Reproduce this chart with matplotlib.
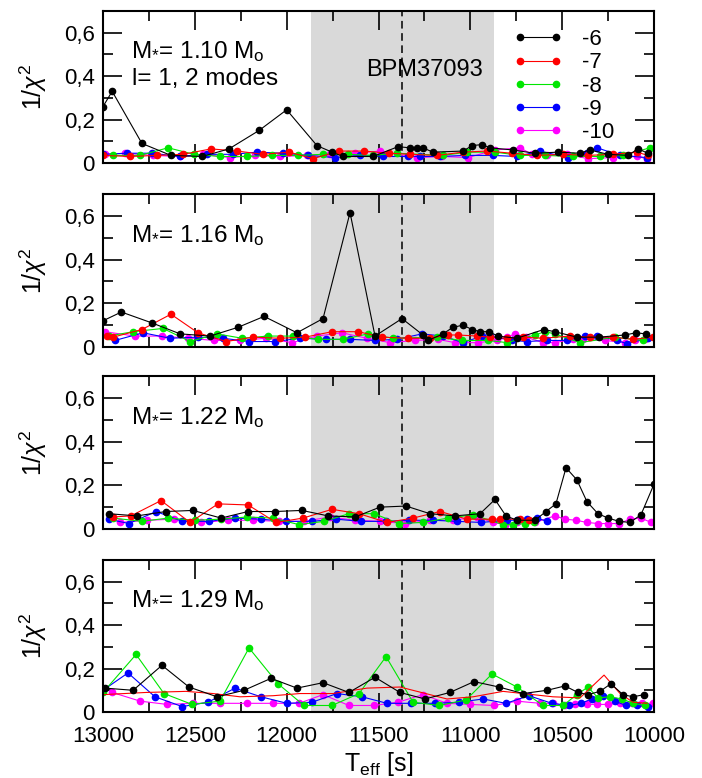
import matplotlib
matplotlib.use("Agg")
import matplotlib.pyplot as plt
from matplotlib.ticker import MultipleLocator, FuncFormatter

# ---- data (Teff [K], 1/chi^2) ----
labels = ['-6', '-7', '-8', '-9', '-10']
colors = ['black', '#ff0000', '#00e600', '#0000ff', '#ff00ff']
masses = ['1.10', '1.16', '1.22', '1.29']

# M = 1.10
m110_T6 = [13000, 12950, 12788, 12630, 12460, 12314, 12150, 12000, 11835, 11753, 11693, 11530, 11394, 11328, 11290,
           11258, 11204, 11040, 10990, 10937, 10893, 10768, 10650, 10520, 10403, 10350, 10250, 10142, 10087, 10033]
m110_y6 = [0.26, 0.33, 0.09, 0.035, 0.03, 0.065, 0.15, 0.245, 0.08, 0.05, 0.03, 0.03, 0.075, 0.07, 0.07,
           0.07, 0.05, 0.055, 0.08, 0.085, 0.07, 0.06, 0.045, 0.05, 0.045, 0.06, 0.04, 0.035, 0.065, 0.045]
m110_T7 = [13000, 12853, 12706, 12564, 12412, 12270, 12129, 11987, 11856, 11715, 11579, 11443, 11328, 11182, 11040,
           10910, 10773, 10637, 10496, 10360, 10224, 10093, 10033]
m110_y7 = [0.035, 0.03, 0.035, 0.04, 0.065, 0.055, 0.04, 0.05, 0.02, 0.055, 0.055, 0.045, 0.04, 0.035, 0.05,
           0.055, 0.045, 0.035, 0.04, 0.035, 0.04, 0.05, 0.035]
m110_T8 = [12945, 12798, 12646, 12504, 12363, 12216, 12080, 11938, 11802, 11666, 11530, 11400, 11149, 11018, 10866,
           10730, 10594, 10441, 10294, 10169, 10022]
m110_y8 = [0.035, 0.035, 0.07, 0.04, 0.03, 0.03, 0.035, 0.035, 0.04, 0.04, 0.035, 0.045, 0.035, 0.05, 0.05,
           0.035, 0.035, 0.03, 0.03, 0.035, 0.07]
m110_T9 = [13000, 12870, 12733, 12580, 12434, 12292, 12162, 12020, 11884, 11737, 11601, 11475, 11339, 11274, 11165,
           11029, 10877, 10746, 10621, 10469, 10365, 10310, 10185, 10038]
m110_y9 = [0.04, 0.045, 0.045, 0.03, 0.04, 0.04, 0.05, 0.045, 0.035, 0.025, 0.035, 0.03, 0.03, 0.03, 0.03,
           0.035, 0.035, 0.03, 0.055, 0.025, 0.045, 0.07, 0.035, 0.025]
m110_T10 = [12990, 12880, 12728, 12580, 12455, 12308, 12172, 12036, 11889, 11764, 11628, 11492, 11290, 11154, 11013,
            10866, 10730, 10664, 10583, 10474, 10360, 10224, 10093, 10038]
m110_y10 = [0.04, 0.045, 0.035, 0.03, 0.04, 0.025, 0.035, 0.03, 0.035, 0.04, 0.045, 0.055, 0.025, 0.03, 0.025,
            0.06, 0.07, 0.04, 0.035, 0.04, 0.02, 0.025, 0.03, 0.02]

# M = 1.16
m116_T6 = [13000, 12900, 12733, 12580, 12417, 12265, 12123, 11944, 11802, 11655, 11519, 11372, 11258, 11230, 11149,
           11095, 11040, 10991, 10947, 10898, 10850, 10747, 10600, 10540, 10420, 10300, 10158, 10098, 10044]
m116_y6 = [0.12, 0.16, 0.11, 0.06, 0.05, 0.09, 0.14, 0.065, 0.13, 0.615, 0.05, 0.13, 0.055, 0.03, 0.06,
           0.09, 0.1, 0.08, 0.07, 0.07, 0.05, 0.04, 0.08, 0.07, 0.045, 0.045, 0.055, 0.065, 0.06]
m116_T7 = [12978, 12945, 12788, 12630, 12483, 12330, 12183, 12036, 11900, 11753, 11610, 11481, 11339, 11220, 11122,
           11067, 10964, 10893, 10800, 10713, 10604, 10458, 10350, 10224, 10114, 10005]
m116_y7 = [0.05, 0.045, 0.08, 0.15, 0.065, 0.025, 0.045, 0.04, 0.045, 0.07, 0.07, 0.045, 0.04, 0.04, 0.055,
           0.055, 0.05, 0.045, 0.04, 0.045, 0.04, 0.05, 0.045, 0.045, 0.035, 0.045]
m116_T8 = [12970, 12836, 12673, 12526, 12379, 12243, 12102, 11965, 11830, 11693, 11557, 11420, 11182, 11046, 10904,
           10800, 10648, 10594, 10540, 10403, 10212, 10060]
m116_y8 = [0.05, 0.07, 0.085, 0.025, 0.06, 0.04, 0.05, 0.05, 0.035, 0.035, 0.06, 0.04, 0.045, 0.03, 0.03,
           0.02, 0.055, 0.07, 0.06, 0.02, 0.045, 0.03]
m116_T9 = [12935, 12782, 12635, 12483, 12347, 12205, 12063, 11927, 11786, 11655, 11519, 11400, 11263, 11149, 11040,
           10937, 10893, 10773, 10692, 10583, 10474, 10376, 10310, 10201, 10147, 10033]
m116_y9 = [0.03, 0.065, 0.04, 0.045, 0.04, 0.025, 0.025, 0.04, 0.035, 0.035, 0.03, 0.035, 0.06, 0.05, 0.02,
           0.05, 0.05, 0.03, 0.025, 0.03, 0.03, 0.05, 0.05, 0.03, 0.015, 0.04]
m116_T10 = [12990, 12825, 12680, 12537, 12395, 12254, 12112, 11971, 11835, 11700, 11562, 11437, 11301, 11176, 11084,
            10958, 10855, 10800, 10757, 10697, 10604, 10540, 10441, 10387, 10267, 10158, 10104, 10049]
m116_y10 = [0.07, 0.05, 0.05, 0.04, 0.03, 0.03, 0.04, 0.02, 0.05, 0.065, 0.04, 0.02, 0.03, 0.035, 0.02,
            0.02, 0.03, 0.045, 0.06, 0.045, 0.02, 0.02, 0.035, 0.035, 0.03, 0.02, 0.03, 0.035]

# M = 1.22
m122_T6 = [12970, 12815, 12657, 12510, 12357, 12210, 12063, 11917, 11775, 11628, 11492, 11350, 11220, 11084, 10947,
           10866, 10806, 10746, 10648, 10588, 10534, 10479, 10420, 10365, 10305, 10250, 10190, 10131, 10071, 10000]
m122_y6 = [0.07, 0.06, 0.08, 0.085, 0.05, 0.08, 0.08, 0.085, 0.06, 0.055, 0.1, 0.105, 0.07, 0.06, 0.07,
           0.135, 0.06, 0.04, 0.04, 0.08, 0.115, 0.28, 0.225, 0.125, 0.07, 0.05, 0.035, 0.03, 0.065, 0.205]
m122_T7 = [12945, 12848, 12684, 12526, 12374, 12210, 12058, 11911, 11753, 11606, 11454, 11312, 11165, 11018, 10882,
           10840, 10730, 10680]
m122_y7 = [0.055, 0.06, 0.13, 0.03, 0.115, 0.11, 0.03, 0.05, 0.09, 0.07, 0.03, 0.05, 0.08, 0.045, 0.045,
           0.045, 0.045, 0.04]
m122_T8 = [12945, 12788, 12646, 12499, 12357, 12216, 12074, 11933, 11797, 11661, 11524, 11389, 11258, 11122, 10985,
           10822, 10768, 10702, 10654]
m122_y8 = [0.05, 0.035, 0.05, 0.04, 0.045, 0.055, 0.05, 0.02, 0.035, 0.07, 0.07, 0.025, 0.03, 0.05, 0.065,
           0.02, 0.02, 0.025, 0.03]
m122_T9 = [12970, 12859, 12711, 12569, 12422, 12281, 12140, 12004, 11862, 11731, 11595, 11459, 11334, 11204, 11073,
           10942, 10800, 10746, 10692, 10637, 10583]
m122_y9 = [0.045, 0.025, 0.08, 0.035, 0.035, 0.05, 0.045, 0.035, 0.035, 0.045, 0.035, 0.035, 0.04, 0.04, 0.035,
           0.03, 0.04, 0.04, 0.045, 0.05, 0.035]
m122_T10 = [12907, 12760, 12613, 12466, 12319, 12183, 12042, 11906, 11764, 11628, 11492, 11356, 11220, 11095, 10964,
            10877, 10811, 10746, 10648, 10540, 10485, 10425, 10365, 10305, 10250, 10190, 10131, 10071, 10016]
m122_y10 = [0.03, 0.04, 0.045, 0.03, 0.04, 0.04, 0.035, 0.035, 0.055, 0.04, 0.035, 0.025, 0.04, 0.04, 0.055,
            0.03, 0.02, 0.03, 0.03, 0.06, 0.045, 0.04, 0.03, 0.025, 0.025, 0.025, 0.045, 0.05, 0.03]

# M = 1.29
m129_T6 = [12990, 12836, 12679, 12532, 12379, 12232, 12085, 11944, 11802, 11661, 11519, 11383, 11247, 11111, 10980,
           10844, 10713, 10582, 10485, 10414, 10360, 10294, 10235, 10169, 10114, 10054]
m129_y6 = [0.11, 0.1, 0.215, 0.115, 0.07, 0.1, 0.155, 0.11, 0.135, 0.09, 0.16, 0.09, 0.06, 0.09, 0.14,
           0.115, 0.085, 0.1, 0.12, 0.09, 0.08, 0.095, 0.13, 0.08, 0.07, 0.08]
m129_T7 = [13000, 12766, 12548, 12401, 12254, 12074, 11927, 11748, 11563, 11383, 11127, 10985, 10822, 10713, 10550,
           10403, 10272, 10185, 10114, 10038]
m129_y7 = [0.08, 0.09, 0.095, 0.085, 0.07, 0.075, 0.085, 0.085, 0.11, 0.115, 0.06, 0.07, 0.095, 0.085, 0.07,
           0.065, 0.17, 0.085, 0.045, 0.04]
m129_T8 = [13000, 12820, 12668, 12515, 12363, 12205, 12047, 11906, 11753, 11606, 11459, 11312, 11170, 11024, 10882,
           10746, 10604, 10496, 10420, 10360, 10305, 10240, 10174, 10114, 10049]
m129_y8 = [0.09, 0.265, 0.085, 0.035, 0.05, 0.295, 0.13, 0.03, 0.03, 0.085, 0.255, 0.045, 0.03, 0.055, 0.175,
           0.115, 0.03, 0.03, 0.08, 0.115, 0.065, 0.07, 0.06, 0.04, 0.03]
m129_T9 = [13000, 12864, 12717, 12569, 12428, 12281, 12140, 11998, 11862, 11726, 11590, 11454, 11323, 11192, 11062,
           10931, 10806, 10681, 10556, 10463, 10398, 10338, 10278, 10212, 10153, 10093, 10033]
m129_y9 = [0.1, 0.18, 0.07, 0.025, 0.045, 0.11, 0.07, 0.04, 0.045, 0.085, 0.07, 0.04, 0.04, 0.04, 0.045,
           0.06, 0.04, 0.075, 0.04, 0.03, 0.04, 0.06, 0.075, 0.05, 0.03, 0.03, 0.025]
m129_T10 = [12950, 12798, 12651, 12510, 12363, 12216, 12074, 11933, 11802, 11661, 11524, 11394, 11258, 11127, 11002,
            10871, 10746, 10621, 10550, 10485, 10430, 10365, 10310, 10250, 10185, 10120, 10065, 10005]
m129_y10 = [0.09, 0.05, 0.035, 0.04, 0.04, 0.04, 0.04, 0.04, 0.08, 0.03, 0.03, 0.045, 0.08, 0.04, 0.035,
            0.03, 0.05, 0.04, 0.04, 0.03, 0.035, 0.035, 0.035, 0.035, 0.04, 0.04, 0.04, 0.04]

panels = [
    [(m110_T6, m110_y6), (m110_T7, m110_y7), (m110_T8, m110_y8), (m110_T9, m110_y9), (m110_T10, m110_y10)],
    [(m116_T6, m116_y6), (m116_T7, m116_y7), (m116_T8, m116_y8), (m116_T9, m116_y9), (m116_T10, m116_y10)],
    [(m122_T6, m122_y6), (m122_T7, m122_y7), (m122_T8, m122_y8), (m122_T9, m122_y9), (m122_T10, m122_y10)],
    [(m129_T6, m129_y6), (m129_T7, m129_y7), (m129_T8, m129_y8), (m129_T9, m129_y9), (m129_T10, m129_y10)],
]

teff_bpm = 11370
teff_band = (10870, 11870)

# ---- style ----
plt.rcParams['font.family'] = ['Liberation Sans', 'DejaVu Sans']
plt.rcParams['mathtext.fontset'] = 'custom'
plt.rcParams['mathtext.rm'] = 'Liberation Sans'
plt.rcParams['mathtext.it'] = 'Liberation Sans:italic'
plt.rcParams['font.size'] = 15

fig = plt.figure(figsize=(7.02, 7.78), dpi=100)
W, H = 702., 778.
left, right = 103, 654
tops = [11, 194, 376, 560]
bots = [163, 347, 529, 712]

comma = FuncFormatter(lambda v, p: '0' if abs(v) < 1e-9 else ('%.1f' % v).replace('.', ','))

axes = []
for i in range(4):
    ax = fig.add_axes([left / W, 1 - bots[i] / H, (right - left) / W, (bots[i] - tops[i]) / H])
    axes.append(ax)
    ax.axvspan(teff_band[0], teff_band[1], color='#d9d9d9', lw=0, zorder=0)
    ax.axvline(teff_bpm, color='black', ls=(0, (5, 3)), lw=1.1, zorder=1)
    for k, (T, y) in enumerate(panels[i]):
        ms = 0 if (i == 3 and k == 1) else 4.5
        ax.plot(T, y, '-o', color=colors[k], lw=0.8, ms=ms, label=labels[k], zorder=2 + (4 - k) * 0.1)
    ax.set_xlim(13000, 10000)
    ax.set_ylim(0, 0.7)
    ax.xaxis.set_major_locator(MultipleLocator(500))
    ax.xaxis.set_minor_locator(MultipleLocator(250))
    ax.yaxis.set_major_locator(MultipleLocator(0.2))
    ax.yaxis.set_minor_locator(MultipleLocator(0.1))
    ax.yaxis.set_major_formatter(comma)
    ax.tick_params(which='both', direction='in', top=True, right=True, width=1.2)
    ax.tick_params(which='major', length=14, labelsize=16)
    ax.tick_params(axis='y', which='major', pad=6)
    ax.tick_params(axis='x', which='major', pad=10)
    ax.tick_params(which='minor', length=7)
    for s in ax.spines.values():
        s.set_linewidth(1.5)
    ax.set_ylabel(r'1/$\chi^2$', fontsize=18)
    ax.yaxis.set_label_coords(-0.098, 0.5)
    if i < 3:
        ax.tick_params(labelbottom=False)
    ax.text(0.05, 0.73, r'M$_{*}$= ' + masses[i] + r' M$_{\rm o}$', transform=ax.transAxes,
            fontsize=17.5, va='center', ha='left')

axes[0].text(0.053, 0.55, 'l= 1, 2 modes', transform=axes[0].transAxes, fontsize=17.5, va='center', ha='left')
axes[0].text(11250, 0.43, 'BPM37093', fontsize=17, ha='center', va='center')
axes[0].legend(loc='upper left', bbox_to_anchor=(0.745, 0.88), frameon=False, numpoints=2,
               handlelength=2.2, handletextpad=0.9, labelspacing=0.1, borderaxespad=0, borderpad=0,
               fontsize=16)
axes[3].set_xlabel(r'T$_{\rm eff}$ [s]', fontsize=18, labelpad=2)

fig.savefig('out.png', dpi=100)
